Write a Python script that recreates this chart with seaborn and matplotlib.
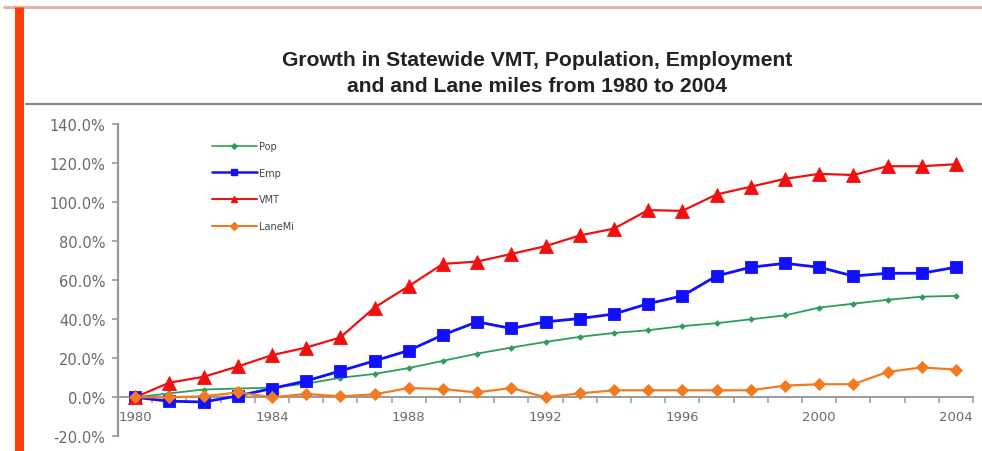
import matplotlib
matplotlib.use("Agg")
import matplotlib.pyplot as plt
from matplotlib.lines import Line2D
from matplotlib.ticker import FixedLocator, FuncFormatter
import seaborn as sns

# Growth since 1980, percent
years = list(range(1980, 2005))
pop = [0, 2, 4, 4.5, 5, 7, 10, 12, 15, 18.7, 22.4, 25.5, 28.4, 31, 33, 34.4,
       36.5, 38, 40, 42, 46, 48, 50, 51.6, 52]
emp = [0, -2, -2.4, 0.7, 4.5, 8.4, 13.5, 18.7, 24, 32, 38.7, 35.3, 38.7, 40.4,
       42.7, 48, 52, 62.2, 66.7, 68.7, 66.7, 62.2, 63.6, 63.6, 66.7]
vmt = [0, 7.5, 10.5, 15.8, 21.6, 25.5, 30.7, 46, 57, 68.4, 69.6, 73.5, 77.5,
       83, 86.5, 96, 95.6, 104, 108, 112, 114.6, 114, 118.5, 118.5, 119.5]
lanemi = [0, 0, 0.5, 2.5, 0, 1.7, 0.5, 1.5, 4.8, 4.2, 2.5, 4.8, 0, 2, 3.6,
          3.6, 3.6, 3.6, 3.6, 6, 6.7, 6.7, 13, 15.3, 14.2]

series_names = ["Pop", "Emp", "VMT", "LaneMi"]
x_labels = [1980, 1984, 1988, 1992, 1996, 2000, 2004]
y_ticks = [-20, 0, 20, 40, 60, 80, 100, 120, 140]

title_1 = "Growth in Statewide VMT, Population, Employment"
title_2 = "and and Lane miles from 1980 to 2004"

sns.set_theme(style="white")
plt.rcParams["font.family"] = ["DejaVu Sans"]

W, H = 982, 452
fig = plt.figure(figsize=(W / 100, H / 100), dpi=100)
fig.patch.set_facecolor("white")


def fx(px):
    return px / W


def fy(py):
    return 1 - py / H


ax = fig.add_axes([fx(118), fy(437.3), fx(973) - fx(118), fy(125.3) - fy(437.3)])
ax.set_facecolor("white")

styles = {
    "Pop": dict(color="#2e9c5c", marker="D", markersize=2.8, linewidth=1.3),
    "Emp": dict(color="#1010ff", marker="s", markersize=8, linewidth=2.0),
    "VMT": dict(color="#f01010", marker="^", markersize=9.5, linewidth=1.6),
    "LaneMi": dict(color="#f47a22", marker="D", markersize=6.5, linewidth=1.6),
}
values = {"Pop": pop, "Emp": emp, "VMT": vmt, "LaneMi": lanemi}

# draw back-to-front so the orange series sits on top near zero
for name in ["Pop", "Emp", "VMT", "LaneMi"]:
    st = styles[name]
    sns.lineplot(x=years, y=values[name], ax=ax, color=st["color"],
                 marker=st["marker"], markersize=st["markersize"],
                 linewidth=st["linewidth"], markeredgewidth=0.6,
                 markeredgecolor=st["color"], legend=False, zorder=3)

ax.set_xlim(1979.5, 2004.5)
ax.set_ylim(-20, 140)

spine_col = "#9a9a9a"
for s in ["top", "right"]:
    ax.spines[s].set_visible(False)
ax.spines["left"].set_color(spine_col)
ax.spines["left"].set_linewidth(1.6)
ax.spines["bottom"].set_color(spine_col)
ax.spines["bottom"].set_linewidth(1.4)
ax.spines["bottom"].set_position(("data", 0))

ax.yaxis.set_major_locator(FixedLocator(y_ticks))
ax.yaxis.set_major_formatter(FuncFormatter(lambda v, p: f"{v:.1f}%"))
ax.tick_params(axis="y", which="major", direction="out", length=4, width=1.2,
               color=spine_col, labelsize=10.5, labelcolor="#6a6a6a", pad=5, left=True)

ax.xaxis.set_major_locator(FixedLocator(x_labels))
ax.xaxis.set_major_formatter(FuncFormatter(lambda v, p: f"{int(v)}"))
ax.xaxis.set_minor_locator(FixedLocator([y + 0.5 for y in range(1979, 2005)]))
ax.tick_params(axis="x", which="major", length=0, labelsize=9.5,
               labelcolor="#6a6a6a", pad=9, bottom=True)
ax.tick_params(axis="x", which="minor", direction="out", length=4, width=1.1,
               color=spine_col, bottom=True)
ax.set_xlabel("")
ax.set_ylabel("")
ax.grid(False)

# legend
handles = [Line2D([0], [0], color=styles[n]["color"], marker=styles[n]["marker"],
                  markersize=min(styles[n]["markersize"], 4.5),
                  linewidth=styles[n]["linewidth"] * 0.9) for n in series_names]
leg = fig.legend(handles, series_names, loc="upper left",
                 bbox_to_anchor=(fx(212), fy(142)), frameon=False, fontsize=7,
                 labelspacing=1.72, handlelength=4.6, handletextpad=0.25,
                 borderpad=0, borderaxespad=0)
for t in leg.get_texts():
    t.set_color("#444444")

# titles
fig.text(fx(537), fy(60), title_1, ha="center", va="center", fontsize=15.2,
         fontweight="bold", color="#222222", family=["Liberation Sans", "DejaVu Sans"])
fig.text(fx(537), fy(87), title_2, ha="center", va="center", fontsize=15.2,
         fontweight="bold", color="#222222", family=["Liberation Sans", "DejaVu Sans"])

# frame decorations
fig.add_artist(Line2D([fx(4), fx(982)], [fy(8), fy(8)], color="#eab2a2", linewidth=2.2))
fig.add_artist(Line2D([fx(19), fx(19)], [fy(8), fy(452)], color="#ff3f0a", linewidth=6.5,
                      solid_capstyle="butt"))
fig.add_artist(Line2D([fx(26), fx(982)], [fy(105), fy(105)], color="#8a8a8a", linewidth=1.6))

fig.savefig("out.png", dpi=100, facecolor="white")
